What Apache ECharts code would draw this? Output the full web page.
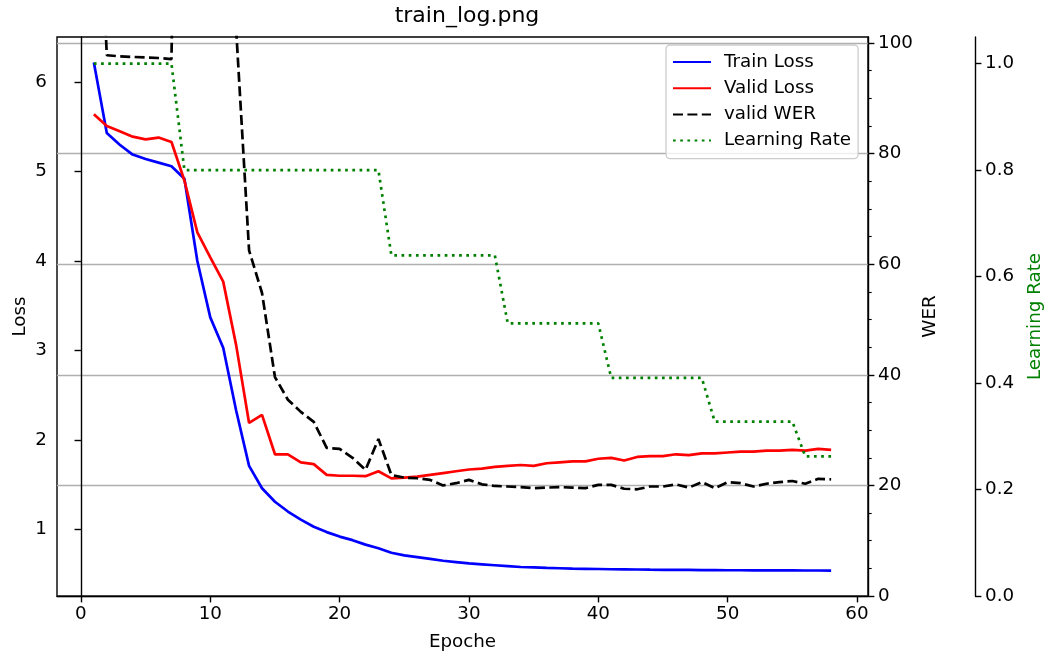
<!DOCTYPE html>
<html>
<head>
<meta charset="utf-8">
<title>train_log.png</title>
<script src="https://cdn.jsdelivr.net/npm/echarts@6/dist/echarts.min.js"></script>
<style>
  html, body { margin: 0; padding: 0; background: #fff; }
  #chart { width: 1044px; height: 657px; }
</style>
</head>
<body>
<div id="chart"></div>
<script>
// values
var epochs = [1, 2, 3, 4, 5, 6, 7, 8, 9, 10, 11, 12, 13, 14, 15, 16, 17, 18, 19, 20,
  21, 22, 23, 24, 25, 26, 27, 28, 29, 30, 31, 32, 33, 34, 35, 36, 37, 38, 39, 40,
  41, 42, 43, 44, 45, 46, 47, 48, 49, 50, 51, 52, 53, 54, 55, 56, 57, 58];

var trainLoss = [6.22, 5.43, 5.30, 5.19, 5.14, 5.10, 5.06, 4.92, 4.00, 3.37,
  3.03, 2.33, 1.71, 1.46, 1.31, 1.20, 1.11, 1.03, 0.97, 0.92,
  0.88, 0.83, 0.79, 0.74, 0.71, 0.69, 0.67, 0.65, 0.635, 0.62,
  0.61, 0.60, 0.59, 0.58, 0.575, 0.57, 0.566, 0.562, 0.56, 0.558,
  0.555, 0.554, 0.552, 0.55, 0.549, 0.548, 0.547, 0.546, 0.545, 0.544,
  0.544, 0.543, 0.543, 0.542, 0.542, 0.541, 0.541, 0.540];

var validLoss = [5.64, 5.51, 5.45, 5.39, 5.36, 5.38, 5.33, 4.90, 4.32, 4.04,
  3.77, 3.06, 2.19, 2.28, 1.84, 1.84, 1.75, 1.73, 1.61, 1.60,
  1.60, 1.595, 1.65, 1.57, 1.58, 1.59, 1.61, 1.63, 1.65, 1.67,
  1.68, 1.70, 1.71, 1.72, 1.71, 1.74, 1.75, 1.76, 1.76, 1.79,
  1.80, 1.77, 1.81, 1.82, 1.82, 1.84, 1.83, 1.85, 1.85, 1.86,
  1.87, 1.87, 1.88, 1.88, 1.89, 1.88, 1.90, 1.89];

// epochs 1 and 8-12 run off the top of the WER axis
var validWer = [150, 97.8, 97.6, 97.5, 97.4, 97.3, 97.1, 250, 200, 160,
  130, 102.5, 62.5, 54.8, 39.6, 35.5, 33.3, 31.5, 26.8, 26.6,
  25.0, 22.8, 28.4, 21.9, 21.4, 21.3, 21.0, 20.0, 20.4, 21.0,
  20.2, 19.9, 19.8, 19.7, 19.5, 19.6, 19.7, 19.6, 19.5, 20.1,
  20.1, 19.4, 19.3, 19.8, 19.8, 20.2, 19.6, 20.6, 19.5, 20.6,
  20.4, 19.8, 20.3, 20.6, 20.8, 20.3, 21.2, 21.1];

var learningRate = [1.0, 1.0, 1.0, 1.0, 1.0, 1.0, 1.0,
  0.8, 0.8, 0.8, 0.8, 0.8, 0.8, 0.8, 0.8, 0.8, 0.8, 0.8, 0.8, 0.8, 0.8, 0.8, 0.8,
  0.64, 0.64, 0.64, 0.64, 0.64, 0.64, 0.64, 0.64, 0.64,
  0.512, 0.512, 0.512, 0.512, 0.512, 0.512, 0.512, 0.512,
  0.4096, 0.4096, 0.4096, 0.4096, 0.4096, 0.4096, 0.4096, 0.4096,
  0.32768, 0.32768, 0.32768, 0.32768, 0.32768, 0.32768, 0.32768,
  0.262144, 0.262144, 0.262144];

var epochTicks = [0, 10, 20, 30, 40, 50, 60];
var lossTicks = [1, 2, 3, 4, 5, 6];
var werTicks = [0, 20, 40, 60, 80, 100];
var werMinorTicks = [5, 10, 15, 25, 30, 35, 45, 50, 55, 65, 70, 75, 85, 90, 95];
var lrTicks = [0, 0.2, 0.4, 0.6, 0.8, 1.0];

var FONT = 'DejaVu Sans';
var FS = 18.3;
var LW = 2.7;

function pairs(ys) {
  var out = [];
  for (var i = 0; i < epochs.length; i++) {
    out.push([epochs[i], ys[i]]);
  }
  return out;
}

function valueAxis(extra) {
  var ax = {
    type: 'value',
    nameMoveOverlap: false,
    axisLine: { show: true, lineStyle: { color: '#000', width: 1.4 } },
    axisTick: { show: true, length: 6.4, lineStyle: { color: '#000', width: 1.4 } },
    axisLabel: { color: '#000', fontFamily: FONT, fontSize: FS, margin: 10 },
    splitLine: { show: false },
    nameTextStyle: { color: '#000', fontFamily: FONT, fontSize: FS }
  };
  for (var k in extra) {
    if (typeof extra[k] === 'object' && ax[k] && !Array.isArray(extra[k])) {
      ax[k] = Object.assign({}, ax[k], extra[k]);
    } else {
      ax[k] = extra[k];
    }
  }
  return ax;
}

var chart = echarts.init(document.getElementById('chart'), null, { renderer: 'canvas' });

var option = {
  animation: false,
  backgroundColor: '#fff',
  textStyle: { fontFamily: FONT },
  title: {
    text: 'train_log.png',
    left: 462,
    top: 0,
    textAlign: 'center',
    textStyle: { color: '#000', fontFamily: FONT, fontSize: 22, fontWeight: 'normal' }
  },
  grid: {
    left: 57, top: 37, right: 176, bottom: 61,
    show: true, borderColor: '#000', borderWidth: 1.4,
    containLabel: false, outerBoundsMode: 'none'
  },
  legend: {
    orient: 'vertical',
    left: 666,
    top: 45,
    padding: [8, 7, 9, 6],
    itemWidth: 38,
    itemHeight: 14,
    itemGap: 8.2,
    backgroundColor: 'rgba(255,255,255,0.8)',
    borderColor: '#cccccc',
    borderWidth: 1.3,
    borderRadius: 4,
    itemStyle: { opacity: 0 },
    textStyle: { color: '#000', fontFamily: FONT, fontSize: FS, padding: [0, 0, 0, 8] },
    data: ['Train Loss', 'Valid Loss', 'valid WER', 'Learning Rate']
  },
  xAxis: valueAxis({
    min: -1.85,
    max: 60.85,
    name: 'Epoche',
    nameLocation: 'middle',
    nameGap: 37,
    axisTick: { customValues: epochTicks },
    axisLabel: { customValues: epochTicks, margin: 9 }
  }),
  yAxis: [
    valueAxis({
      min: 0.256,
      max: 6.504,
      position: 'left',
      name: 'Loss',
      nameLocation: 'middle',
      nameGap: 28,
      axisTick: { customValues: lossTicks },
      axisLabel: { customValues: lossTicks }
    }),
    valueAxis({
      min: 0,
      max: 101.1,
      position: 'right',
      name: 'WER',
      nameLocation: 'middle',
      nameRotate: 90,
      nameGap: 53,
      axisTick: { customValues: werTicks },
      axisLabel: { customValues: werTicks },
      splitLine: { show: true, lineStyle: { color: '#b0b0b0', width: 1.4 } }
    }),
    valueAxis({
      min: 0,
      max: 1.05,
      position: 'right',
      offset: 107,
      name: 'Learning Rate',
      nameLocation: 'middle',
      nameRotate: 90,
      nameGap: 51,
      nameTextStyle: { color: '#008000' },
      axisTick: { customValues: lrTicks },
      axisLabel: {
        customValues: lrTicks,
        formatter: function (v) { return v.toFixed(1); }
      }
    }),
    // minor ticks of the WER axis
    valueAxis({
      min: 0,
      max: 101.1,
      position: 'right',
      axisLine: { show: false },
      axisTick: { customValues: werMinorTicks, length: 3.7, lineStyle: { width: 1.1 } },
      axisLabel: { show: false }
    })
  ],
  series: [
    {
      name: 'Train Loss', type: 'line', yAxisIndex: 0, symbol: 'none',
      color: '#0000ff',
      lineStyle: { color: '#0000ff', width: LW },
      data: pairs(trainLoss)
    },
    {
      name: 'Valid Loss', type: 'line', yAxisIndex: 0, symbol: 'none',
      color: '#ff0000',
      lineStyle: { color: '#ff0000', width: LW },
      data: pairs(validLoss)
    },
    {
      name: 'valid WER', type: 'line', yAxisIndex: 1, symbol: 'none',
      color: '#000000',
      lineStyle: { color: '#000000', width: LW, type: [10, 4.4] },
      data: pairs(validWer)
    },
    {
      name: 'Learning Rate', type: 'line', yAxisIndex: 2, symbol: 'none',
      color: '#008000',
      lineStyle: { color: '#008000', width: LW, type: [2.7, 4.5] },
      data: pairs(learningRate)
    }
  ]
};

chart.setOption(option);
</script>
</body>
</html>
